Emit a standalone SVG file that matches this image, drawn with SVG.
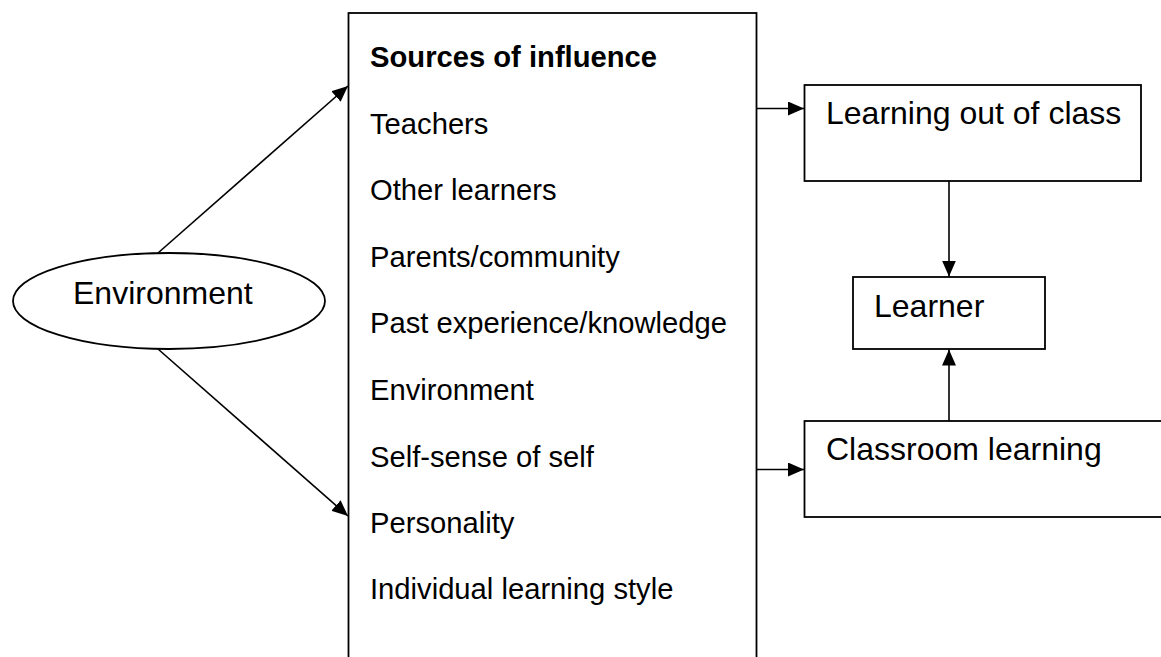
<svg xmlns="http://www.w3.org/2000/svg" width="1161" height="657" viewBox="0 0 1161 657">
<defs>
<style>
.box{fill:#fff;stroke:#000;stroke-width:1.8}
.ln{fill:none;stroke:#000;stroke-width:1.6}
.t{font-family:"Liberation Sans",Arial,sans-serif;font-size:29.2px;fill:#000}
.L{font-size:32px}
.b{font-weight:bold}
</style>
<marker id="ahL" viewBox="0 0 16 14" refX="16" refY="7" markerWidth="16" markerHeight="14" markerUnits="userSpaceOnUse" orient="auto">
<path d="M0,0 L16,7 L0,14 z" fill="#000"/>
</marker>
</defs>
<rect width="1161" height="657" fill="#fff"/>
<g id="sources">
<rect class="box" x="348.5" y="13" width="408" height="660"/>
<text class="t b" x="370" y="67">Sources of influence</text>
<text class="t" x="370" y="134">Teachers</text>
<text class="t" x="370" y="200">Other learners</text>
<text class="t" x="370" y="267">Parents/community</text>
<text class="t" x="370" y="333">Past experience/knowledge</text>
<text class="t" x="370" y="400">Environment</text>
<text class="t" x="370" y="467">Self-sense of self</text>
<text class="t" x="370" y="533">Personality</text>
<text class="t" x="370" y="599">Individual learning style</text>
</g>
<g id="environment">
<ellipse class="box" cx="169" cy="301" rx="156" ry="48"/>
<text class="t L" x="73" y="304">Environment</text>
</g>
<g id="out-of-class">
<rect class="box" x="804.5" y="85" width="336.5" height="96"/>
<text class="t L" x="826" y="124">Learning out of class</text>
</g>
<g id="learner">
<rect class="box" x="853" y="277" width="192" height="72"/>
<text class="t L" x="874" y="317">Learner</text>
</g>
<g id="classroom">
<rect class="box" x="804.5" y="421" width="380" height="96"/>
<text class="t L" x="826" y="460">Classroom learning</text>
</g>
<g id="connectors">
<line class="ln" x1="158" y1="253" x2="348" y2="86" marker-end="url(#ahL)"/>
<line class="ln" x1="158" y1="349" x2="348" y2="516" marker-end="url(#ahL)"/>
<line class="ln" x1="757" y1="108.5" x2="804" y2="108.5" marker-end="url(#ahL)"/>
<line class="ln" x1="757" y1="469.5" x2="804" y2="469.5" marker-end="url(#ahL)"/>
<line class="ln" x1="949" y1="181" x2="949" y2="276.5" marker-end="url(#ahL)"/>
<line class="ln" x1="949" y1="421" x2="949" y2="349.5" marker-end="url(#ahL)"/>
</g>
</svg>
